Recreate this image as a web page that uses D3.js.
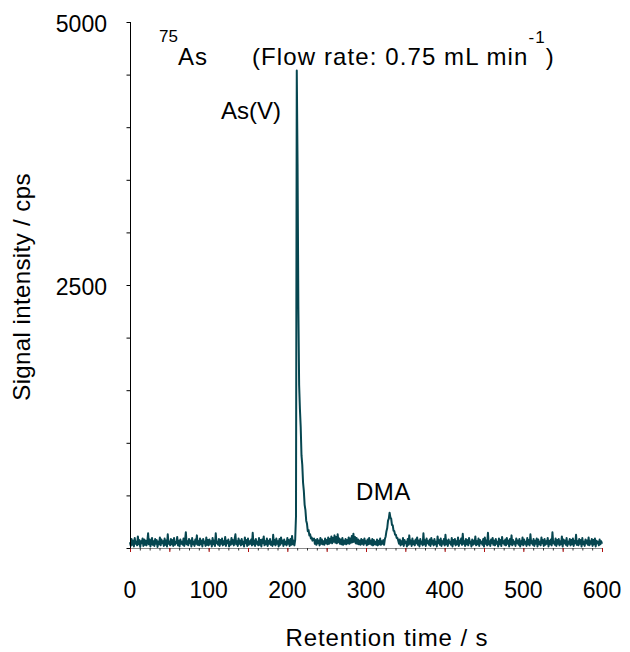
<!DOCTYPE html>
<html>
<head>
<meta charset="utf-8">
<script src="https://cdn.jsdelivr.net/npm/d3@7"></script>
<style>
  body { margin: 0; background: #fff; }
  text { font-family: Arial, "Liberation Sans", sans-serif; fill: #000; }
</style>
</head>
<body>
<div id="chart"></div>
<script>
// signal, one value per second (0 .. 600 s)
let baselineBefore = [
  55, 20, 85, 30, 70, 15, 95, 40, 60, 25, 110, 35, 75, 10, 65, 45, 90, 20, 80, 30,
  70, 25, 60, 140, 35, 80, 15, 55, 95, 30, 65, 20, 85, 40, 75, 10, 60, 35, 100, 25,
  80, 45, 65, 20, 90, 30, 70, 15, 130, 40, 60, 25, 85, 35, 75, 20, 95, 30, 55, 45,
  105, 25, 70, 15, 80, 40, 60, 30, 90, 20, 75, 150, 35, 65, 25, 85, 45, 70, 15, 95,
  35, 60, 20, 80, 40, 120, 30, 65, 25, 90, 35, 70, 15, 85, 45, 60, 20, 100, 30, 75,
  25, 80, 40, 65, 15, 95, 35, 70, 20, 140, 45, 60, 30, 85, 20, 75, 40, 90, 25, 65,
  35, 105, 20, 70, 45, 80, 15, 60, 30, 95, 40, 75, 25, 85, 130, 35, 65, 20, 90, 40,
  70, 25, 85, 35, 60, 15, 100, 45, 75, 20, 90, 30, 65, 40, 80, 25, 145, 35, 70, 20,
  85, 40, 60, 25, 95, 30, 75, 15, 80, 45, 110, 25, 65, 35, 90, 20, 70, 40, 85, 30,
  60, 20, 125, 35, 75, 25, 90, 40, 65, 15, 85, 30, 100, 45, 70, 20, 80, 35, 60, 25,
  95, 40, 75, 20, 85, 30, 115, 35, 70, 25, 80
];
let peakAsV = [300, 4540, 3650, 2300, 1550, 1320, 1150, 880, 790, 620, 540, 410,
  360, 260, 230, 160, 170, 120, 130, 90, 100, 70, 85];
let baselineBetween = [
  90, 40, 75, 30, 85, 45, 70, 25, 95, 40, 80, 35, 65, 30, 90, 45, 75, 35, 100, 40,
  85, 50, 110, 45, 95, 60, 120, 50, 105, 45, 130, 55, 90, 40, 80, 35, 95, 30, 70, 40,
  85, 35, 75, 45, 100, 40, 90, 50, 115, 55, 135, 60, 105, 45, 95, 40, 80, 35, 70, 30,
  85, 40, 75, 30, 90, 45, 65, 25, 80, 35, 95, 40, 70, 30, 85, 25, 75, 35, 60, 30,
  80, 25, 70, 35, 90, 30, 65, 40, 75, 30, 85
];
let peakDMA = [110, 160, 190, 260, 280, 335, 290, 280, 220, 215, 165, 160, 125, 125, 95, 95, 70];
let baselineAfter = [
  40, 80, 25, 65, 35, 95, 20, 75, 45, 60, 15, 85, 30, 120, 40, 70, 20, 90, 35, 65,
  25, 80, 45, 100, 30, 70, 15, 85, 40, 60, 25, 140, 35, 75, 20, 90, 45, 65, 30, 80,
  20, 95, 40, 70, 25, 85, 35, 60, 15, 110, 45, 75, 30, 90, 20, 65, 40, 85, 25, 125,
  35, 70, 20, 80, 45, 60, 30, 95, 15, 75, 40, 85, 25, 65, 35, 100, 20, 70, 45, 90,
  30, 135, 40, 65, 20, 85, 35, 75, 25, 95, 45, 60, 15, 80, 30, 70, 40, 110, 25, 65,
  35, 90, 20, 75, 45, 60, 30, 85, 15, 100, 40, 70, 25, 145, 35, 65, 20, 80, 45, 95,
  30, 70, 25, 85, 40, 60, 15, 90, 35, 75, 20, 105, 45, 65, 30, 80, 25, 95, 40, 70,
  15, 85, 35, 120, 25, 75, 40, 60, 20, 90, 45, 70, 30, 85, 15, 65, 35, 100, 25, 80,
  40, 60, 20, 95, 35, 75, 25, 130, 45, 65, 30, 85, 20, 70, 40, 90, 15, 80, 35, 60,
  25, 100, 45, 75, 20, 85, 30, 65, 40, 95, 15, 70, 35, 80, 25, 150, 45, 60, 30, 90,
  20, 75, 40, 85, 25, 65, 35, 110, 15, 80, 45, 70, 30, 95, 20, 60, 40, 85, 25, 75,
  35, 90, 20, 70, 45, 125, 30, 65, 25, 85, 40, 75, 15, 95, 35, 60, 20, 80, 45, 70,
  30, 100, 25, 65, 40, 85, 20, 75, 35, 90, 15, 70, 45, 60, 25, 80, 35, 65, 40
];

let xTickLabels = [0, 100, 200, 300, 400, 500, 600];
let yTickLabels = [2500, 5000];

let chartW = 630, chartH = 652;
let padLeft = 130, padRight = 602, padTop = 22, padBottom = 548;
let fontSize = "23px";
let wordSize = "24px";

let signal = [].concat(baselineBefore, peakAsV, baselineBetween, peakDMA, baselineAfter);
let points = signal.map((v, i) => ({t: i, v: v}));

let svg = d3.select("#chart").append("svg")
  .attr("width", chartW)
  .attr("height", chartH);

let xScale = d3.scaleLinear().domain([0, 600]).range([padLeft, padRight]);
let yScale = d3.scaleLinear().domain([0, 5000]).range([padBottom, padTop]);

// x axis: grey line, dark red major ticks, small black minor ticks
let xAxisGroup = svg.append("g").attr("class", "xaxisgroup");
xAxisGroup.append("line")
  .attr("x1", padLeft).attr("x2", padRight)
  .attr("y1", padBottom + 0.5).attr("y2", padBottom + 0.5)
  .attr("stroke", "#8c8c8c");
xAxisGroup.selectAll(".minor")
  .data(d3.range(0, 600.1, 12.5))
  .enter().append("line")
  .attr("x1", d => xScale(d) + 0.5).attr("x2", d => xScale(d) + 0.5)
  .attr("y1", padBottom).attr("y2", padBottom + 2.5)
  .attr("stroke", "#333");
xAxisGroup.selectAll(".major")
  .data(d3.range(0, 600.1, 50))
  .enter().append("line")
  .attr("x1", d => xScale(d) + 0.5).attr("x2", d => xScale(d) + 0.5)
  .attr("y1", padBottom).attr("y2", padBottom + 4)
  .attr("stroke", "#b01010");
xAxisGroup.selectAll(".xlabel")
  .data(xTickLabels)
  .enter().append("text")
  .attr("x", d => xScale(d))
  .attr("y", 598)
  .attr("text-anchor", "middle")
  .style("font-size", fontSize)
  .text(d => d);

// trace
let line = d3.line().x(d => xScale(d.t)).y(d => yScale(d.v));
svg.append("path")
  .datum(points)
  .attr("fill", "none")
  .attr("stroke", "#064650")
  .attr("stroke-width", 2)
  .attr("stroke-linejoin", "round")
  .attr("d", line);

// y axis
let yAxis = d3.axisLeft(yScale)
  .tickValues(d3.range(0, 5001, 500))
  .tickSize(4)
  .tickFormat("");
let yAxisGroup = svg.append("g")
  .attr("class", "yaxisgroup")
  .attr("transform", "translate(" + (padLeft + 0.5) + ",0)")
  .call(yAxis);
yAxisGroup.select(".domain").attr("stroke", "#000").attr("d", "M0," + padTop + "V" + padBottom);
yAxisGroup.selectAll(".tick line").attr("stroke", "#000");

svg.selectAll(".ylabel")
  .data(yTickLabels)
  .enter().append("text")
  .attr("x", 107)
  .attr("y", d => yScale(d) + 10)
  .attr("text-anchor", "end")
  .style("font-size", fontSize)
  .text(d => d);

// axis titles
svg.append("text")
  .attr("x", 387).attr("y", 646)
  .attr("text-anchor", "middle")
  .style("font-size", wordSize)
  .style("letter-spacing", "0.9px")
  .text("Retention time / s");
svg.append("text")
  .attr("transform", "translate(30,287) rotate(-90)")
  .attr("text-anchor", "middle")
  .style("font-size", wordSize)
  .style("letter-spacing", "0.4px")
  .text("Signal intensity / cps");

// header and peak labels
let head = svg.append("text").attr("x", 159).attr("y", 65).style("font-size", wordSize);
head.append("tspan").attr("dy", -23).style("font-size", "17px").text("75");
head.append("tspan").attr("dy", 23).style("letter-spacing", "1px").text("As");
let flow = svg.append("text").attr("x", 252).attr("y", 65)
  .style("font-size", wordSize)
  .style("letter-spacing", "1.1px");
flow.append("tspan").text("(Flow rate: 0.75 mL min");
flow.append("tspan").attr("dy", -22).style("font-size", "17px").text("-1");
flow.append("tspan").attr("dy", 22).text(")");

svg.append("text").attr("x", 221).attr("y", 119).style("font-size", wordSize).text("As(V)");
svg.append("text").attr("x", 356).attr("y", 500).style("font-size", wordSize)
  .style("letter-spacing", "0.5px").text("DMA");
</script>
</body>
</html>
